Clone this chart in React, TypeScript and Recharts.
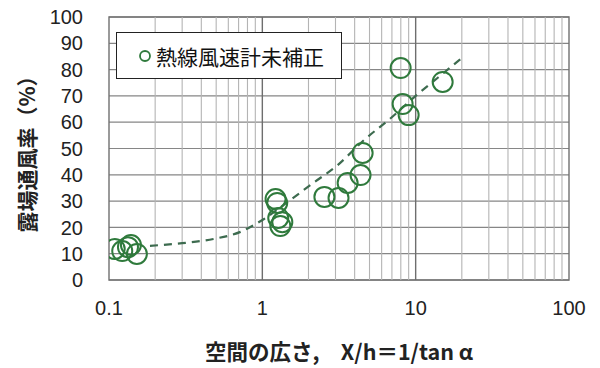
import React from 'react';
import {
  ScatterChart,
  Scatter,
  XAxis,
  YAxis,
  CartesianGrid,
  ReferenceLine,
  ReferenceArea,
  Label,
} from 'recharts';

// measured points: space width X/h vs. ventilation rate (%)
const spaceRatio = [
  0.109, 0.122, 0.133, 0.139, 0.152,
  1.22, 1.25, 1.27, 1.35, 1.31,
  2.54, 3.14, 3.6, 4.37, 4.51, 7.98, 8.22, 9.0, 15.0,
];
const ventRate = [
  11.8, 11.0, 12.5, 13.3, 9.9,
  30.8, 29.3, 23.6, 22.0, 20.5,
  31.6, 31.2, 36.9, 39.9, 48.3, 80.6, 66.9, 62.7, 75.3,
];

// dashed trend curve, read along its path
const trendX = [0.185, 0.3, 0.48, 0.72, 1.0, 1.52, 2.15, 3.1, 4.6, 6.9, 10, 14, 20];
const trendY = [13, 14, 15.6, 18.3, 22.8, 30.4, 36.9, 43.7, 53.2, 61.6, 70, 77, 84.4];

const xTicks = [0.1, 1, 10, 100];
const xMinor = [0.2, 0.3, 0.4, 0.5, 0.6, 0.7, 0.8, 0.9, 2, 3, 4, 5, 6, 7, 8, 9, 20, 30, 40, 50, 60, 70, 80, 90];
const yTicks = [0, 10, 20, 30, 40, 50, 60, 70, 80, 90, 100];

const seriesName = '熱線風速計未補正';
const xTitle = '空間の広さ,　X/h＝1/tan α';
const yTitle = '露場通風率（%）';

const GREEN = '#2f7a3c';
const TICK_FONT = 'Liberation Sans, Arial, sans-serif';
const CJK_FONT = '"Noto Sans CJK JP", "Noto Sans", sans-serif';

const points = spaceRatio.map((x, i) => ({ x, y: ventRate[i] }));
const trend = trendX.map((x, i) => ({ x, y: trendY[i] }));

const OpenCircle = (props: any) => {
  const { cx, cy } = props;
  if (cx == null || cy == null) return null;
  return <circle cx={cx} cy={cy} r={10} fill="none" stroke={GREEN} strokeWidth={2} />;
};

const LegendBox = () => (
  <div
    style={{
      position: 'absolute',
      left: 116,
      top: 32,
      width: 226,
      height: 47,
      border: '1.5px solid #222',
      background: '#fff',
      display: 'flex',
      alignItems: 'center',
      boxSizing: 'border-box',
      paddingLeft: 21,
      fontFamily: CJK_FONT,
      fontSize: 21,
      color: '#111',
    }}
  >
    <svg width={14} height={14} style={{ marginRight: 4 }}>
      <circle cx={7} cy={7} r={5} fill="none" stroke={GREEN} strokeWidth={1.8} />
    </svg>
    <span>{seriesName}</span>
  </div>
);

export default function App() {
  return (
    <div style={{ position: 'absolute', left: 0, top: 0, width: 600, height: 368, background: '#fff' }}>
      <ScatterChart width={600} height={368} margin={{ top: 17, right: 31, bottom: 58, left: 49 }}>
        <CartesianGrid vertical={false} stroke="#868686" strokeWidth={1.2} />
        {xMinor.map((v) => (
          <ReferenceLine key={v} x={v} stroke="#b4b4b4" strokeWidth={1.1} />
        ))}
        <ReferenceLine x={1} stroke="#6e6e6e" strokeWidth={1.4} />
        <ReferenceLine x={10} stroke="#6e6e6e" strokeWidth={1.4} />
        <ReferenceArea x1={0.1} x2={100} y1={0} y2={100} fill="none" stroke="#707070" strokeWidth={1.4} />
        <XAxis
          type="number"
          dataKey="x"
          scale="log"
          domain={[0.1, 100]}
          ticks={xTicks}
          interval={0}
          allowDataOverflow
          axisLine={false}
          tickLine={false}
          height={30}
          tickMargin={15}
          tick={{ fontFamily: TICK_FONT, fontSize: 20, fill: '#222' }}
        >
          <Label
            content={() => (
              <text
                x={339}
                y={360}
                textAnchor="middle"
                fontFamily={CJK_FONT}
                fontWeight="bold"
                fontSize={21.5}
                fill="#222"
              >
                {xTitle}
              </text>
            )}
          />
        </XAxis>
        <YAxis
          type="number"
          dataKey="y"
          domain={[0, 100]}
          ticks={yTicks}
          interval={0}
          axisLine={false}
          tickLine={false}
          width={60}
          tickMargin={20}
          tick={{ fontFamily: TICK_FONT, fontSize: 20, fill: '#222' }}
        >
          <Label
            content={() => (
              <text
                x={0}
                y={0}
                transform="translate(35 149) rotate(-90)"
                textAnchor="middle"
                fontFamily={CJK_FONT}
                fontWeight="bold"
                fontSize={21}
                fill="#222"
              >
                {yTitle}
              </text>
            )}
          />
        </YAxis>
        <Scatter
          name="trend"
          data={trend}
          line={{ stroke: '#3d6b4f', strokeWidth: 2.2, strokeDasharray: '8 6' }}
          lineJointType="monotoneX"
          shape={() => null}
          legendType="none"
          isAnimationActive={false}
        />
        <Scatter name={seriesName} data={points} shape={OpenCircle} isAnimationActive={false} />
      </ScatterChart>
      <LegendBox />
    </div>
  );
}
